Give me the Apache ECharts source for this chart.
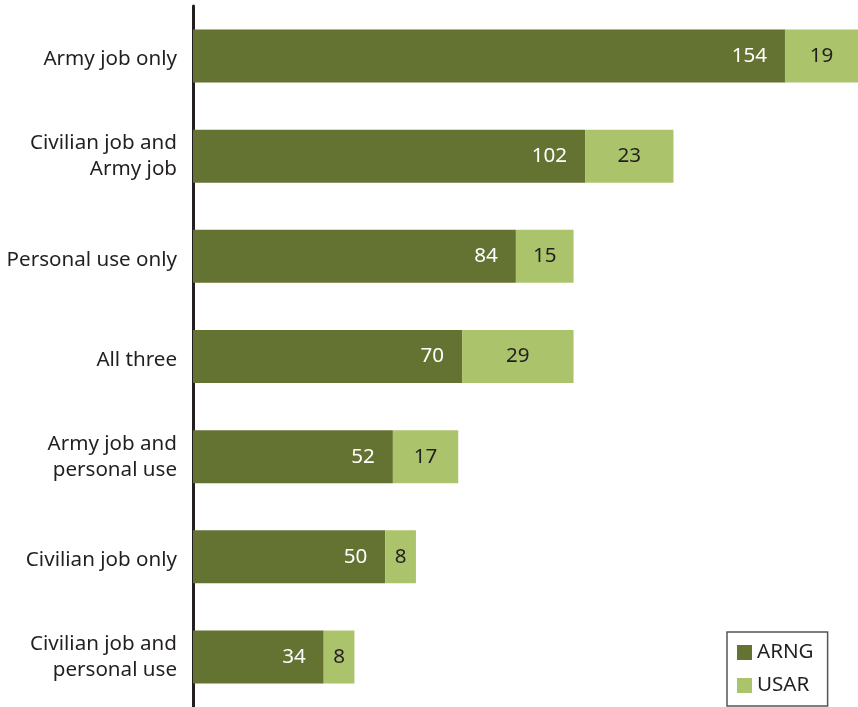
<!DOCTYPE html>
<html>
<head>
<meta charset="utf-8">
<script src="https://cdn.jsdelivr.net/npm/echarts@6/dist/echarts.min.js"></script>
<style>html,body{margin:0;padding:0;background:#fff}#c{width:858px;height:707px}</style>
</head>
<body>
<div id="c"></div>
<script>
const categories = ['Army job only', 'Civilian job and\nArmy job', 'Personal use only', 'All three', 'Army job and\npersonal use', 'Civilian job only', 'Civilian job and\npersonal use'];
const arng = [154, 102, 84, 70, 52, 50, 34];
const usar = [19, 23, 15, 29, 17, 8, 8];

const chart = echarts.init(document.getElementById('c'));
const font = 'Noto Sans';
const fs = 20.6;
const txt = '#231f20';
chart.setOption({
  animation: false,
  textStyle: { fontFamily: font },
  grid: { left: 193, right: 0, top: 6, bottom: 0, containLabel: false },
  xAxis: { type: 'value', min: 0, max: 173, show: false },
  yAxis: {
    type: 'category', data: categories, inverse: true,
    axisLine: { show: true, lineStyle: { color: txt, width: 3 } },
    axisTick: { show: false },
    axisLabel: {
      margin: 16, fontSize: fs, color: txt, lineHeight: 26, fontFamily: font, align: 'right',
      formatter: v => v.indexOf('\n') >= 0
        ? v.split('\n').map(l => '{t|' + l + '}').join('\n')
        : '{o|' + v + '}',
      rich: {
        o: { fontSize: fs, color: txt, fontFamily: font, padding: [7, 0, 0, 0] },
        t: { fontSize: fs, color: txt, fontFamily: font, lineHeight: 26 }
      }
    }
  },
  legend: {
    orient: 'vertical', left: 727, top: 632, width: 99,
    borderColor: '#555', borderWidth: 1.5, padding: [10, 14, 10, 10],
    itemWidth: 15, itemHeight: 15, itemGap: 12, icon: 'rect',
    textStyle: { fontSize: fs, color: txt, fontFamily: font, padding: [2, 0, 0, 0] },
    data: ['ARNG', 'USAR']
  },
  series: [
    {
      name: 'ARNG', type: 'bar', stack: 's', data: arng, barWidth: 53,
      itemStyle: { color: '#647232' },
      label: { show: true, position: 'insideRight', distance: 18, color: '#fff', fontSize: fs, fontFamily: font, padding: [4, 0, 0, 0] }
    },
    {
      name: 'USAR', type: 'bar', stack: 's', data: usar, barWidth: 53,
      itemStyle: { color: '#abc46c' },
      label: { show: true, position: 'inside', color: txt, fontSize: fs, fontFamily: font, padding: [4, 0, 0, 0] }
    }
  ]
});
</script>
</body>
</html>
